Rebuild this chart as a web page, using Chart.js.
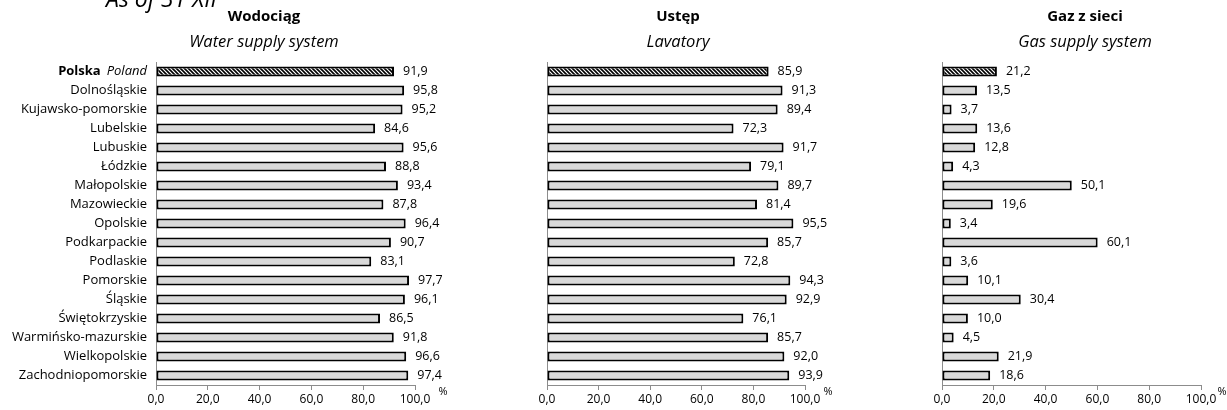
<!DOCTYPE html>
<html>
<head>
<meta charset="utf-8">
<script src="https://cdn.jsdelivr.net/npm/chart.js"></script>
<style>
body { margin: 0; background: #fff; width: 1227px; height: 410px; overflow: hidden; position: relative; }
.box { position: absolute; top: 0; height: 410px; }
</style>
</head>
<body>
<div class="box" style="left:0;width:480px"><canvas id="chartWoda"></canvas></div>
<div class="box" style="left:480px;width:400px"><canvas id="chartUstep"></canvas></div>
<div class="box" style="left:880px;width:347px"><canvas id="chartGaz"></canvas></div>
<script>
// wojewodztwa - first row is the whole country
var regions = ['Polska Poland', 'Dolnośląskie', 'Kujawsko-pomorskie', 'Lubelskie', 'Lubuskie', 'Łódzkie',
    'Małopolskie', 'Mazowieckie', 'Opolskie', 'Podkarpackie', 'Podlaskie', 'Pomorskie', 'Śląskie',
    'Świętokrzyskie', 'Warmińsko-mazurskie', 'Wielkopolskie', 'Zachodniopomorskie'];

var wodociag = [91.9, 95.8, 95.2, 84.6, 95.6, 88.8, 93.4, 87.8, 96.4, 90.7, 83.1, 97.7, 96.1, 86.5, 91.8, 96.6, 97.4];
var ustep = [85.9, 91.3, 89.4, 72.3, 91.7, 79.1, 89.7, 81.4, 95.5, 85.7, 72.8, 94.3, 92.9, 76.1, 85.7, 92.0, 93.9];
var gaz = [21.2, 13.5, 3.7, 13.6, 12.8, 4.3, 50.1, 19.6, 3.4, 60.1, 3.6, 10.1, 30.4, 10.0, 4.5, 21.9, 18.6];

var xMin = 0, xMax = 100, xStep = 20;

var FONT = "'Open Sans', sans-serif";

function fmt(v) {
    return v.toFixed(1).replace('.', ',');
}

// ukośne kreski dla słupka Polska
function hatch() {
    var c = document.createElement('canvas');
    c.width = 4; c.height = 4;
    var g = c.getContext('2d');
    g.fillStyle = '#fff';
    g.fillRect(0, 0, 4, 4);
    g.strokeStyle = '#000';
    g.lineWidth = 1.6;
    g.beginPath();
    g.moveTo(-1, -1); g.lineTo(5, 5);
    g.moveTo(3, -1); g.lineTo(5, 1);
    g.moveTo(-1, 3); g.lineTo(1, 5);
    g.stroke();
    return g.createPattern(c, 'repeat');
}

var labelsPlugin = {
    id: 'labelsPlugin',
    afterDatasetsDraw: function (chart) {
        var ctx = chart.ctx;
        var meta = chart.getDatasetMeta(0);
        var data = chart.data.datasets[0].data;
        ctx.save();
        ctx.font = '12.5px ' + FONT;
        ctx.fillStyle = '#000';
        ctx.textAlign = 'left';
        ctx.textBaseline = 'middle';
        meta.data.forEach(function (el, i) {
            ctx.fillText(fmt(data[i]), el.x + 9, el.y);
        });
        ctx.restore();
    },
    afterDraw: function (chart) {
        var o = chart.options.plugins.labelsPlugin;
        var ctx = chart.ctx;
        var area = chart.chartArea;
        ctx.save();
        ctx.fillStyle = '#000';
        ctx.textAlign = 'center';
        ctx.textBaseline = 'middle';
        ctx.font = 'bold 15px ' + FONT;
        ctx.fillText(o.title, o.titleX, 17);
        ctx.font = 'italic 16.5px ' + FONT;
        ctx.fillText(o.subtitle, o.titleX, 42);
        ctx.font = '11px ' + FONT;
        ctx.fillText('%', o.pctX, area.bottom + 7);
        if (o.polska) {
            var y = chart.scales.y.getPixelForValue(0);
            var parts = regions[0].split(' ');
            var x = area.left - 9;
            ctx.textAlign = 'right';
            ctx.font = 'italic 13px ' + FONT;
            ctx.fillText(parts[1], x, y);
            var w = ctx.measureText(parts[1]).width;
            ctx.font = 'bold 13px ' + FONT;
            ctx.fillText(parts[0], x - w - 6, y);
            ctx.textAlign = 'left';
            ctx.textBaseline = 'alphabetic';
            ctx.font = 'italic 23px ' + FONT;
            ctx.fillText('As of 31 XII', 106, 7);
        }
        ctx.restore();
    }
};

function makeChart(id, values, o) {
    var colors = values.map(function (v, i) { return i === 0 ? hatch() : '#d9d9d9'; });
    return new Chart(document.getElementById(id), {
        type: 'bar',
        data: {
            labels: regions,
            datasets: [{
                data: values,
                backgroundColor: colors,
                borderColor: '#000',
                borderWidth: 2,
                borderSkipped: false,
                barPercentage: 0.53,
                categoryPercentage: 1
            }]
        },
        options: {
            indexAxis: 'y',
            responsive: true,
            maintainAspectRatio: false,
            animation: false,
            layout: { padding: { top: 62, right: o.padRight, left: 0, bottom: 0 } },
            plugins: {
                legend: { display: false },
                tooltip: { enabled: false },
                labelsPlugin: o
            },
            scales: {
                x: {
                    min: xMin, max: xMax,
                    afterFit: function (s) { s.height = 25; },
                    ticks: {
                        stepSize: xStep,
                        color: '#000',
                        font: { family: FONT, size: 12 },
                        padding: 2,
                        maxRotation: 0,
                        callback: function (v) { return fmt(v); }
                    },
                    grid: { drawOnChartArea: false, drawTicks: true, tickLength: 5, color: '#8c8c8c' },
                    border: { color: '#8c8c8c', width: 1 }
                },
                y: {
                    afterFit: function (s) { s.width = o.yWidth; },
                    grid: { display: false, drawTicks: false },
                    border: { color: '#8c8c8c', width: 1 },
                    ticks: {
                        display: !!o.polska,
                        color: '#000',
                        padding: 9,
                        font: { family: FONT, size: 13 },
                        callback: function (v, i) { return i === 0 ? '' : this.getLabelForValue(v); }
                    }
                }
            }
        },
        plugins: [labelsPlugin]
    });
}

makeChart('chartWoda', wodociag, {
    title: 'Wodociąg', subtitle: 'Water supply system',
    titleX: 264, pctX: 443, yWidth: 156, padRight: 65, polska: true
});
makeChart('chartUstep', ustep, {
    title: 'Ustęp', subtitle: 'Lavatory',
    titleX: 198, pctX: 348, yWidth: 67, padRight: 75, polska: false
});
makeChart('chartGaz', gaz, {
    title: 'Gaz z sieci', subtitle: 'Gas supply system',
    titleX: 205, pctX: 342, yWidth: 62, padRight: 26, polska: false
});
</script>
</body>
</html>
